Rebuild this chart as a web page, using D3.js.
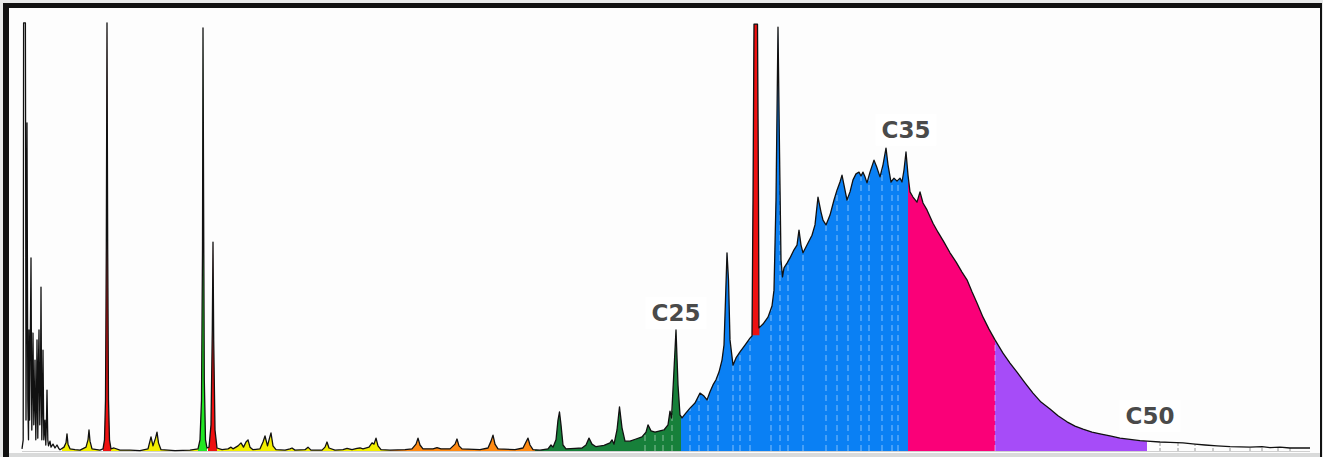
<!DOCTYPE html>
<html lang="en">
<head>
  <meta charset="UTF-8">
  <title>Chromatogram – carbon number distribution</title>
  <script src="https://d3js.org/d3.v7.min.js"></script>
  <style>
    body {
      margin: 0;
      background: #e8e9e9;
      overflow: hidden;
    }
    .trace {
      fill: none;
      stroke: #111;
      stroke-width: 1.3px;
      stroke-linejoin: round;
    }
    .carbon-label {
      font-family: "DejaVu Sans", "Open Sans", sans-serif;
      font-weight: bold;
      font-size: 23px;
      fill: #4a4a4a;
      text-anchor: middle;
    }
  </style>
</head>
<body>
  <div id="chart"></div>

  <script>
    // retention time (min), abundance (% of max)
    const lightEnds = [
      [0.00, 0.5], [0.06, 2.6], [0.08, 99.8], [0.17, 99.8], [0.185, 58.5], [0.20, 7.2],
      [0.225, 35.2], [0.25, 76.5], [0.29, 11.9], [0.325, 2.6], [0.35, 28.2], [0.38, 7.2],
      [0.40, 16.6], [0.45, 45.0], [0.49, 4.9], [0.525, 16.6], [0.55, 27.5], [0.59, 6.1],
      [0.625, 11.9], [0.65, 21.2], [0.69, 2.6], [0.725, 11.9], [0.75, 25.9], [0.79, 3.0],
      [0.825, 21.2], [0.85, 28.2], [0.89, 6.1], [0.925, 16.6], [0.95, 38.2], [0.99, 2.6],
      [1.025, 11.9], [1.05, 23.5], [1.09, 2.6], [1.125, 4.9], [1.15, 7.2], [1.19, 1.4],
      [1.225, 7.2], [1.25, 14.2], [1.29, 2.6], [1.325, 1.2], [1.40, 2.3], [1.45, 0.9],
      [1.55, 1.6], [1.65, 0.7], [1.75, 1.4], [1.85, 0.5]
    ];

    const earlyPeaks = [
      [1.90, 0.3], [2.10, 0.9], [2.20, 1.9], [2.25, 4.0], [2.30, 1.6], [2.40, 0.5],
      [2.65, 0.3], [2.90, 0.2], [3.20, 0.9], [3.30, 2.6], [3.35, 4.9], [3.40, 2.3],
      [3.50, 0.5], [3.90, 0.2], [4.05, 0.5], [4.125, 2.6], [4.175, 11.9], [4.215, 46.9],
      [4.25, 99.8], [4.285, 46.9], [4.325, 11.9], [4.375, 2.6], [4.45, 0.5], [4.60, 0.7],
      [4.90, 0.2], [5.40, 0.2], [5.90, 0.1], [6.30, 0.5], [6.45, 3.3], [6.55, 1.2],
      [6.675, 3.0], [6.75, 4.4], [6.825, 1.9], [6.95, 0.3], [7.65, 0.1], [8.40, 0.2],
      [8.80, 0.5], [8.90, 2.6], [8.975, 11.9], [9.025, 46.9], [9.05, 98.6], [9.08, 58.5],
      [9.115, 16.6], [9.175, 2.6], [9.25, 0.7], [9.35, 0.9], [9.45, 6.1], [9.515, 28.2],
      [9.55, 48.7], [9.585, 25.9], [9.65, 4.9], [9.75, 0.7], [10.00, 0.3], [10.30, 0.5],
      [10.45, 0.9], [10.55, 0.5], [10.80, 1.2], [10.95, 1.9], [11.075, 0.9], [11.20, 2.1],
      [11.30, 2.6], [11.40, 0.9], [11.55, 0.3], [11.90, 0.5], [12.05, 2.1], [12.15, 3.5],
      [12.275, 1.2], [12.375, 3.0], [12.45, 4.2], [12.55, 1.2], [12.70, 0.3], [13.15, 0.2],
      [13.40, 0.5], [13.50, 0.7], [13.65, 0.2], [14.15, 0.3], [14.30, 0.9], [14.45, 0.2],
      [15.00, 0.2], [15.15, 0.9], [15.25, 2.1], [15.35, 0.7], [15.65, 0.2], [16.05, 0.3],
      [16.25, 0.6], [16.50, 0.3], [16.75, 0.6], [16.90, 0.7], [17.05, 0.5], [17.35, 0.9],
      [17.50, 1.9], [17.60, 1.6], [17.70, 3.0], [17.80, 1.2], [17.95, 0.3]
    ];

    const midPeaks = [
      [18.40, 0.2], [19.15, 0.3], [19.50, 0.5], [19.70, 1.6], [19.80, 3.0], [19.90, 1.4],
      [20.05, 0.5], [20.55, 0.5], [20.75, 0.8], [20.95, 0.5], [21.40, 0.5], [21.65, 1.6],
      [21.75, 2.8], [21.85, 1.2], [22.00, 0.5], [22.90, 0.3], [23.30, 0.7], [23.45, 2.3],
      [23.55, 3.7], [23.65, 1.6], [23.80, 0.5], [24.65, 0.3], [25.05, 0.7], [25.20, 2.1],
      [25.30, 3.0], [25.40, 1.4], [25.55, 0.3], [25.90, 0.2], [26.30, 0.5], [26.45, 1.4],
      [26.55, 0.9], [26.70, 2.6], [26.80, 7.2], [26.875, 9.1], [26.95, 6.1], [27.05, 1.4],
      [27.20, 0.5], [27.65, 0.6], [28.00, 0.7], [28.20, 1.4], [28.35, 3.0], [28.50, 1.6],
      [28.70, 1.0], [29.10, 1.3], [29.40, 1.9], [29.50, 2.6], [29.60, 1.6], [29.75, 4.9],
      [29.875, 10.3], [30.00, 5.4], [30.15, 2.3], [30.40, 2.3], [30.70, 2.8], [31.00, 3.3],
      [31.20, 4.4], [31.30, 6.1], [31.45, 4.7], [31.65, 4.4], [31.90, 4.7], [32.10, 4.9],
      [32.30, 6.1], [32.40, 9.3], [32.475, 7.7], [32.575, 16.6], [32.70, 28.2], [32.80, 15.4],
      [32.90, 8.4], [33.00, 7.7]
    ];

    const humpProfile = [
      [33.20, 8.9], [33.40, 10.0], [33.65, 11.2], [33.90, 13.5], [34.10, 12.8], [34.25, 11.9],
      [34.40, 13.8], [34.55, 15.4], [34.70, 16.6], [34.85, 18.4], [35.00, 21.2], [35.10, 24.7],
      [35.175, 35.2], [35.25, 46.2], [35.325, 39.9], [35.40, 25.9], [35.55, 20.0], [35.70, 21.7],
      [35.90, 23.1], [36.15, 24.7], [36.40, 26.3], [36.50, 26.8], [36.55, 58.5], [36.60, 99.5],
      [36.775, 99.5], [36.825, 58.5], [36.85, 28.7], [37.05, 29.6], [37.30, 31.2], [37.50, 33.8],
      [37.60, 37.5], [37.70, 58.5], [37.80, 98.8], [37.875, 70.2], [37.95, 44.5], [38.025, 40.6],
      [38.10, 42.7], [38.25, 43.8], [38.40, 45.0], [38.60, 46.9], [38.75, 48.0], [38.85, 51.5],
      [38.95, 48.0], [39.05, 46.2], [39.30, 48.5], [39.50, 50.3], [39.65, 52.7], [39.80, 59.2],
      [39.95, 55.7], [40.05, 53.8], [40.20, 52.7], [40.40, 55.0], [40.60, 58.5], [40.75, 60.8],
      [40.90, 62.7], [41.00, 64.3], [41.10, 62.0], [41.25, 58.5], [41.40, 60.4], [41.55, 63.2],
      [41.70, 64.6], [41.85, 65.0], [41.95, 64.1], [42.05, 65.0], [42.15, 63.9], [42.25, 62.5],
      [42.40, 65.0], [42.60, 67.8], [42.75, 66.0], [42.90, 63.9], [43.05, 66.7], [43.20, 70.6],
      [43.30, 66.7], [43.45, 62.7], [43.60, 63.6], [43.75, 62.9], [43.90, 63.6], [44.00, 62.7],
      [44.10, 65.5], [44.20, 69.7], [44.30, 64.3], [44.40, 60.4], [44.55, 59.2], [44.75, 58.0],
      [44.90, 60.4], [45.05, 57.8], [45.25, 56.2], [45.55, 53.1], [45.80, 51.0], [46.10, 48.7],
      [46.40, 46.2], [46.70, 44.1], [47.00, 41.7], [47.25, 39.9], [47.50, 37.1], [47.75, 34.5],
      [48.05, 31.2], [48.35, 28.4], [48.65, 25.9], [49.05, 22.8], [49.40, 20.5], [49.75, 18.4],
      [50.15, 15.9], [50.55, 13.5], [50.95, 11.4], [51.40, 9.8], [51.80, 8.2], [52.25, 6.8],
      [52.65, 5.8], [53.05, 5.1], [53.50, 4.4], [53.90, 4.0], [54.40, 3.5], [54.90, 3.0],
      [55.40, 2.7], [55.90, 2.4], [56.25, 2.3]
    ];

    const tailProfile = [
      [56.90, 2.1], [57.40, 2.0], [58.05, 1.9], [58.65, 1.6], [59.15, 1.4], [59.75, 1.2],
      [60.40, 1.0], [61.40, 0.9], [62.00, 1.0], [62.40, 0.8], [62.90, 0.9], [63.40, 0.7],
      [64.40, 0.7]
    ];

    // shaded fractions (retention window, group)
    const bandFrom  = [2.00, 4.05, 4.45, 8.80, 9.30, 9.75, 18.40, 25.65, 32.95, 36.48, 44.30, 48.65];
    const bandTo    = [3.90, 4.45, 8.80, 9.25, 9.75, 18.40, 25.65, 32.95, 44.30, 36.87, 48.65, 56.25];
    const bandFloor = [0, 0, 0, 0, 0, 0, 0, 0, 0, 27, 0, 0];
    const bandGroup = ["light", "standard", "light", "marker", "standard", "light",
                       "kerosene", "diesel", "lube", "standard", "heavy", "residue"];

    const groups = ["light", "standard", "marker", "kerosene", "diesel", "lube", "heavy", "residue"];
    const groupColors = ["#f2ee00", "#ee1111", "#22e622", "#ff8a12", "#17803a", "#0a80f4", "#fa0078", "#a64cf8"];

    // n-alkane positions
    const carbonMarks = [31.15, 31.65, 32.05, 32.5, 33.4, 33.85, 34.3, 34.8, 35.55, 35.9, 36.4,
                         37.45, 37.9, 38.3, 39.05, 40.2, 40.75, 41.3, 41.95, 42.35, 43.0, 43.5,
                         43.8, 48.65];
    const tailMarks = [56.9, 57.8, 58.65, 59.55, 60.4, 61.4, 62.0, 62.8, 63.4];

    const labelText  = ["C25", "C35", "C50"];
    const labelRt    = [32.7, 44.2, 56.4];
    const labelLevel = [30.3, 73.0, 6.3];

    const width = 1323, height = 457;
    const svg = d3.select("#chart").append("svg")
      .attr("width", width)
      .attr("height", height);

    // frame
    svg.append("rect").attr("width", width).attr("height", height).attr("fill", "#e8e9e9");
    svg.append("rect").attr("x", 3).attr("y", 3).attr("width", 1319).attr("height", 454).attr("fill", "#111");
    svg.append("rect").attr("x", 9).attr("y", 8).attr("width", 1311).attr("height", 445).attr("fill", "#fdfdfd");
    svg.append("rect").attr("x", 9).attr("y", 453).attr("width", 1311).attr("height", 4).attr("fill", "#d9dada");

    const x = d3.scaleLinear().domain([0, 64.4]).range([22, 1310]);
    const y = d3.scaleLinear().domain([0, 100]).range([451, 22]);
    const color = d3.scaleOrdinal().domain(groups).range(groupColors);

    const trace = [...lightEnds, ...earlyPeaks, ...midPeaks, ...humpProfile, ...tailProfile];

    const area = d3.area()
      .x(d => x(d[0]))
      .y0(y(0))
      .y1(d => y(d[1]));
    const line = d3.line()
      .x(d => x(d[0]))
      .y(d => y(d[1]));

    const defs = svg.append("defs");
    defs.append("clipPath").attr("id", "under-trace")
      .append("path").attr("d", area(trace));

    // baseline
    svg.append("line")
      .attr("x1", x(0)).attr("x2", x(64.4))
      .attr("y1", y(0) + 0.5).attr("y2", y(0) + 0.5)
      .attr("stroke", "#cfcfcf");

    // coloured fractions
    bandFrom.forEach((from, i) => {
      const id = "band-" + i;
      defs.append("clipPath").attr("id", id)
        .append("rect")
        .attr("x", x(from))
        .attr("width", x(bandTo[i]) - x(from))
        .attr("y", y(100) - 5)
        .attr("height", y(bandFloor[i]) - y(100) + 5);
      svg.append("path")
        .attr("d", area(trace))
        .attr("fill", color(bandGroup[i]))
        .attr("clip-path", `url(#${id})`);
    });

    // dashed carbon-number markers under the curve
    const marks = svg.append("g").attr("clip-path", "url(#under-trace)");
    marks.selectAll(".cmark")
      .data(carbonMarks)
      .join("line")
      .attr("class", "cmark")
      .attr("x1", d => x(d)).attr("x2", d => x(d))
      .attr("y1", y(0)).attr("y2", y(100))
      .attr("stroke", "#ffffff")
      .attr("stroke-opacity", 0.5)
      .attr("stroke-dasharray", "6,4");
    marks.selectAll(".tmark")
      .data(tailMarks)
      .join("line")
      .attr("class", "tmark")
      .attr("x1", d => x(d)).attr("x2", d => x(d))
      .attr("y1", y(0)).attr("y2", y(100))
      .attr("stroke", "#9a9a9a")
      .attr("stroke-dasharray", "3,2");

    svg.append("path")
      .attr("class", "trace")
      .attr("d", line(trace));

    // carbon number labels
    labelText.forEach((t, i) => {
      const g = svg.append("g");
      const txt = g.append("text")
        .attr("class", "carbon-label")
        .attr("x", x(labelRt[i]))
        .attr("y", y(labelLevel[i]))
        .text(t);
      const bb = txt.node().getBBox();
      g.insert("rect", "text")
        .attr("x", bb.x - 6).attr("y", bb.y - 3)
        .attr("width", bb.width + 12).attr("height", bb.height + 6)
        .attr("fill", "#ffffff").attr("fill-opacity", 0.9);
    });
  </script>
</body>
</html>
